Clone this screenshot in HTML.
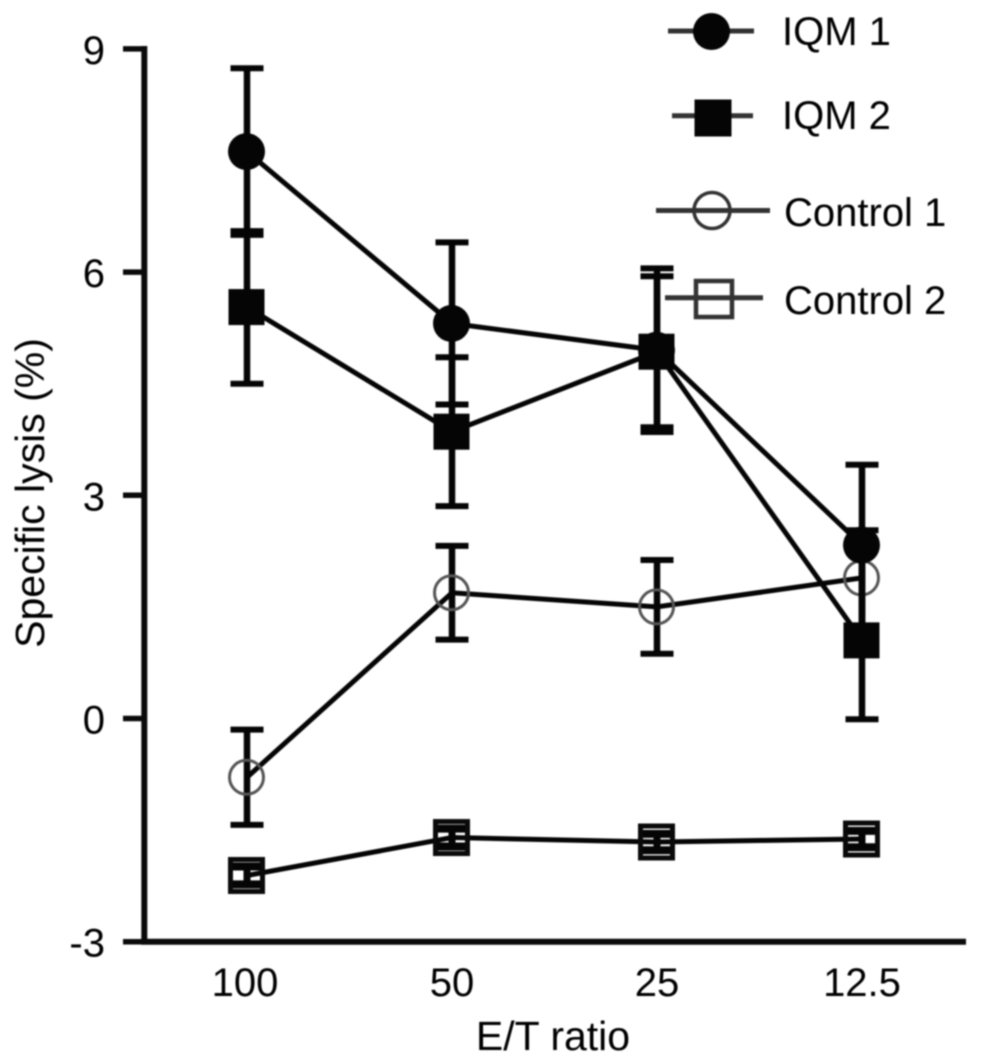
<!DOCTYPE html>
<html>
<head>
<meta charset="utf-8">
<style>
html,body{margin:0;padding:0;background:#fff;width:981px;height:1063px;overflow:hidden}
svg{display:block;filter:blur(0.7px)}
text{font-family:"Liberation Sans",Arial,sans-serif;fill:#000}
</style>
</head>
<body>
<svg id="chart" width="981" height="1063" viewBox="0 0 981 1063" xmlns="http://www.w3.org/2000/svg"></svg>
<script>
const categories = ['100', '50', '25', '12.5'];
const yTickLabels = [-3, 0, 3, 6, 9];
const seriesNames = ['IQM 1', 'IQM 2', 'Control 1', 'Control 2'];
const iqm1Values = [7.62, 5.31, 4.95, 2.33];
const iqm1Errors = [1.12, 1.09, 1.1, 1.08];
const iqm2Values = [5.53, 3.855, 4.93, 1.05];
const iqm2ErrorsUp = [1.02, 1.0, 1.015, 1.28];
const iqm2ErrorsDown = [1.03, 1.0, 1.015, 1.06];
const control1Values = [-0.79, 1.69, 1.5, 1.89];
const control1Errors = [0.64, 0.63, 0.63, 0.64];
const control2Values = [-2.11, -1.6, -1.66, -1.62];
const control2Errors = [0.12, 0.12, 0.11, 0.11];

const svg = document.getElementById('chart');
const NS = 'http://www.w3.org/2000/svg';
function mk(tag, attrs, name, parent) {
  const el = document.createElementNS(NS, tag);
  for (const k in attrs) el.setAttribute(k, attrs[k]);
  
  
  (parent || svg).appendChild(el);
  return el;
}
function yScale(v) { return 718.5 - v * 74.4; }
function xScale(i) { return 247 + i * 205; }

function marker(kind, cx, cy, r, parent, name, sw, color) {
  if (kind === 'fc') mk('circle', {cx, cy, r, fill: '#050505'}, name, parent);
  if (kind === 'fs') mk('rect', {x: cx - r, y: cy - r, width: 2 * r, height: 2 * r, fill: '#050505'}, name, parent);
  if (kind === 'oc') mk('circle', {cx, cy, r, fill: 'none', stroke: color, 'stroke-width': sw}, name, parent);
  if (kind === 'os') mk('rect', {x: cx - r, y: cy - r, width: 2 * r, height: 2 * r, fill: 'none', stroke: color, 'stroke-width': sw}, name, parent);
}

// axes
mk('line', {x1: 144.3, y1: 46, x2: 144.3, y2: 944, stroke: '#0a0a0a', 'stroke-width': 6}, 'y-axis');
mk('line', {x1: 141, y1: 941.7, x2: 966, y2: 941.7, stroke: '#0a0a0a', 'stroke-width': 6}, 'x-axis');
yTickLabels.forEach(v => {
  const y = yScale(v);
  mk('line', {x1: 123, y1: y, x2: 146, y2: y, stroke: '#0a0a0a', 'stroke-width': 5.5}, 'y-tick-' + v);
  const t = mk('text', {x: 105, y: y + 15, 'text-anchor': 'end', 'font-size': 40}, 'y-tick-label-' + v);
  t.textContent = v;
});
categories.forEach((c, i) => {
  const t = mk('text', {x: xScale(i) - (i === 0 ? 2 : 0), y: 996, 'text-anchor': 'middle', 'font-size': 40}, 'x-tick-label-' + c);
  t.textContent = c;
});
const yTitle = mk('text', {x: 0, y: 0, 'text-anchor': 'middle', 'font-size': 41, transform: 'translate(44 493) rotate(-90)'}, 'y-axis-title');
yTitle.textContent = 'Specific lysis (%)';
const xTitle = mk('text', {x: 553, y: 1050, 'text-anchor': 'middle', 'font-size': 41}, 'x-axis-title');
xTitle.textContent = 'E/T ratio';

// series
function drawSeries(name, values, errUp, errDown, kind, r, lw, bw, capw, sw, color) {
  const g = mk('g', {}, 'series-' + name);
  const pts = values.map((v, i) => xScale(i) + ',' + yScale(v)).join(' ');
  mk('polyline', {points: pts, fill: 'none', stroke: '#050505', 'stroke-width': lw}, 'line-' + name, g);
  values.forEach((v, i) => {
    const x = xScale(i);
    const hi = yScale(v + errUp[i]);
    const lo = yScale(v - errDown[i]);
    mk('line', {x1: x, y1: hi, x2: x, y2: lo, stroke: '#050505', 'stroke-width': bw}, 'error-bar-' + name, g);
    mk('line', {x1: x - 16.5, y1: hi, x2: x + 16.5, y2: hi, stroke: '#050505', 'stroke-width': capw}, 'error-cap-top-' + name, g);
    mk('line', {x1: x - 16.5, y1: lo, x2: x + 16.5, y2: lo, stroke: '#050505', 'stroke-width': capw}, 'error-cap-bottom-' + name, g);
    marker(kind, x - 0.5, yScale(v), r, g, 'point-' + name, sw, color);
  });
}
drawSeries('control-2', control2Values, control2Errors, control2Errors, 'os', 16, 5, 7, 8, 5, '#0a0a0a');
drawSeries('control-1', control1Values, control1Errors, control1Errors, 'oc', 17, 5, 6.5, 6, 3, '#555');
drawSeries('iqm-1', iqm1Values, iqm1Errors, iqm1Errors, 'fc', 18.5, 5, 6.5, 6);
drawSeries('iqm-2', iqm2Values, iqm2ErrorsUp, iqm2ErrorsDown, 'fs', 18, 5, 6.5, 6);

// legend
function legendEntry(i, kind, x1, x2, lineY, cx, cy, r, sw, textX, baseline) {
  const g = mk('g', {}, 'legend-entry-' + (i + 1));
  mk('line', {x1, y1: lineY, x2, y2: lineY, stroke: '#333', 'stroke-width': 5}, 'legend-line', g);
  marker(kind, cx, cy, r, g, 'legend-marker', sw, '#333');
  const t = mk('text', {x: textX, y: baseline, 'font-size': 40}, 'legend-label', g);
  t.textContent = seriesNames[i];
}
legendEntry(0, 'fc', 668, 754, 31, 711.5, 31.5, 18.5, 0, 782, 45);
legendEntry(1, 'fs', 672, 753, 115.7, 713, 118, 18.5, 0, 782, 129);
legendEntry(2, 'oc', 656, 770, 210.5, 712, 210.5, 18, 3.5, 784, 226);
legendEntry(3, 'os', 665, 763, 297.7, 714, 299, 18, 4.5, 784, 314);
</script>
</body>
</html>
